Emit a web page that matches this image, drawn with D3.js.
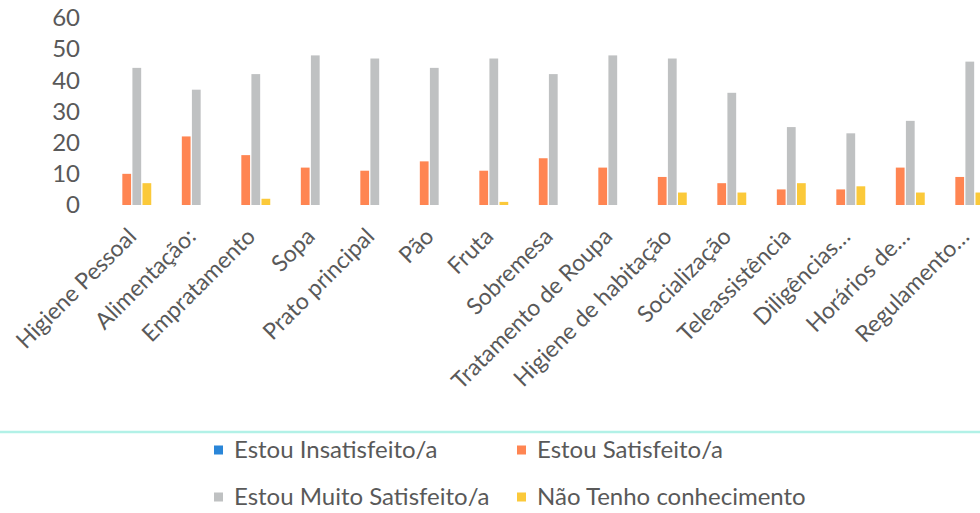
<!DOCTYPE html>
<html>
<head>
<meta charset="utf-8">
<script src="https://cdn.jsdelivr.net/npm/d3@7"></script>
<style>
  html, body { margin: 0; padding: 0; background: #ffffff; }
  svg { display: block; }
  text { font-family: Lato, "Open Sans", sans-serif; fill: #595959; }
</style>
</head>
<body>
<svg id="chart" width="980" height="513"></svg>
<script>
// Survey categories
const categories = [
  "Higiene Pessoal", "Alimentação:", "Empratamento", "Sopa", "Prato principal",
  "Pão", "Fruta", "Sobremesa", "Tratamento de Roupa", "Higiene de habitação",
  "Socialização", "Teleassistência", "Diligências…", "Horários de…", "Regulamento…"
];

// Series names (legend order)
const seriesNames = [
  "Estou Insatisfeito/a", "Estou Satisfeito/a",
  "Estou Muito Satisfeito/a", "Não Tenho conhecimento"
];

// Response counts per category
const insatisfeito   = [0, 0, 0, 0, 0, 0, 0, 0, 0, 0, 0, 0, 0, 0, 0];
const satisfeito     = [10, 22, 16, 12, 11, 14, 11, 15, 12, 9, 7, 5, 5, 12, 9];
const muitoSatisfeito = [44, 37, 42, 48, 47, 44, 47, 42, 48, 47, 36, 25, 23, 27, 46];
const naoConhecimento = [7, 0, 2, 0, 0, 0, 1, 0, 0, 4, 4, 7, 6, 4, 4];

const yTicks = [0, 10, 20, 30, 40, 50, 60];

const seriesValues = [insatisfeito, satisfeito, muitoSatisfeito, naoConhecimento];
const colors = ["#2a86d8", "#ff8552", "#bfc1c2", "#fbc93a"];

const svg = d3.select("#chart");

const x0 = d3.scaleBand()
  .domain(categories)
  .range([102, 102 + 15 * 59.5]);

const x1 = d3.scaleBand()
  .domain(d3.range(seriesNames.length))
  .range([10.25, 49.25])
  .paddingInner(0.13);

const y = d3.scaleLinear()
  .domain([0, 60])
  .range([205, 18]);

// Y axis tick labels (no axis line, no gridlines)
const yAxis = d3.axisLeft(y).tickValues(yTicks).tickSize(0).tickPadding(0);
const gy = svg.append("g").attr("transform", "translate(80,0)").call(yAxis);
gy.select(".domain").remove();
gy.selectAll("text")
  .attr("font-family", "Lato, 'Open Sans', sans-serif")
  .attr("font-size", 24)
  .attr("fill", "#595959");

// Bars
const groups = svg.append("g")
  .selectAll("g")
  .data(categories)
  .join("g")
  .attr("transform", d => `translate(${x0(d)},0)`);

groups.selectAll("rect")
  .data((d, i) => seriesValues.map((vals, s) => ({ s, v: vals[i] })))
  .join("rect")
  .attr("x", d => x1(d.s))
  .attr("width", x1.bandwidth())
  .attr("y", d => y(d.v))
  .attr("height", d => y(0) - y(d.v))
  .attr("fill", d => colors[d.s]);

// Category labels, rotated -45°
svg.append("g")
  .selectAll("text")
  .data(categories)
  .join("text")
  .attr("transform", d => `translate(${x0(d) + x0.bandwidth() / 2 + 6},${238}) rotate(-45)`)
  .attr("text-anchor", "end")
  .attr("font-size", 23)
  .attr("fill", "#545454")
  .text(d => d);

// Separator line above legend
svg.append("line")
  .attr("x1", 0).attr("x2", 980)
  .attr("y1", 432).attr("y2", 432)
  .attr("stroke", "#b2f1e7")
  .attr("stroke-width", 2.5);

// Legend (2 x 2)
const legendPos = [
  { x: 214, y: 450 }, { x: 517, y: 450 },
  { x: 214, y: 497 }, { x: 517, y: 497 }
];
const legend = svg.append("g")
  .selectAll("g")
  .data(seriesNames)
  .join("g")
  .attr("transform", (d, i) => `translate(${legendPos[i].x},${legendPos[i].y})`);

legend.append("rect")
  .attr("x", 0).attr("y", -4.5)
  .attr("width", 9).attr("height", 9)
  .attr("fill", (d, i) => colors[i]);

legend.append("text")
  .attr("x", 20)
  .attr("dy", "0.35em")
  .attr("font-size", 24)
  .text(d => d);
</script>
</body>
</html>
